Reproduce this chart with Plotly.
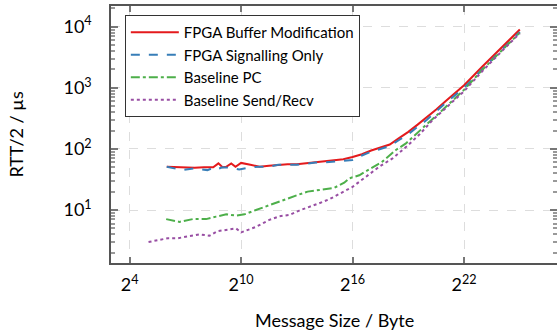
import math
import plotly.graph_objects as go

# ---- data (x as log2 of message size in bytes, y = RTT/2 in microseconds) ----
red_n = [6, 6.5, 7, 7.5, 8, 8.5, 8.78, 9, 9.2, 9.47, 9.7, 10, 10.5, 11, 11.5, 12, 12.5, 13, 13.5,
         14, 14.5, 15, 15.5, 16, 16.5, 17, 17.5, 18, 18.5, 19, 19.5, 20, 20.5, 21, 21.5, 22, 23, 24, 25]
red_y = [51, 50, 49, 49, 50, 50, 58, 50, 51, 58, 51, 59, 55, 51, 53, 55, 56, 56, 58,
         60, 62, 64, 68, 74, 82, 94, 105, 118, 150, 190, 250, 330, 440, 600, 800, 1100, 2250, 4500, 9000]

blue_n = [6, 6.85, 7.5, 8.19, 8.5, 8.66, 9, 9.5, 9.9, 10.5, 11, 11.5, 12, 12.5, 13, 13.5, 14, 14.5,
          15, 15.5, 16, 16.5, 17, 17.5, 18, 18.5, 19, 19.5, 20, 21, 22, 23, 24, 25]
blue_y = [51, 45, 48, 45, 49, 46, 50, 49, 46, 50, 51, 51, 55, 55, 55, 57, 60, 60,
          62, 64, 66, 78, 90, 100, 112, 140, 175, 230, 300, 560, 1000, 2050, 4100, 8200]

green_n = [5.97, 6.69, 7.4, 8.12, 8.66, 9.2, 9.73, 10.18, 10.8, 11.52, 12.15, 13.04, 13.58, 14.48,
           15.0, 15.55, 15.82, 16.36, 17.6, 18.33, 18.87, 19.94, 20.66, 22, 23, 24, 25]
green_y = [7.1, 6.4, 7.1, 7.1, 7.8, 8.5, 8.1, 8.5, 10, 12.1, 14, 17.6, 20, 22,
           23, 28, 33, 37, 62, 96, 123, 245, 385, 930, 2000, 4000, 8000]

purple_n = [5.02, 6.06, 6.58, 7.12, 7.76, 8.3, 8.73, 9.73, 10.0, 10.8, 10.99, 11.52, 12.06, 12.6,
            13.13, 13.67, 14.2, 14.75, 15.28, 16.0, 16.72, 17.43, 18.15, 18.87, 19.58, 20.3, 22, 23, 24, 25]
purple_y = [3.0, 3.45, 3.45, 3.65, 4.0, 3.8, 4.5, 5.0, 4.3, 5.3, 5.7, 6.9, 7.9, 8.3,
            9.8, 11.1, 12.9, 15, 18.5, 24, 35, 51, 70, 107, 170, 295, 880, 1900, 3900, 7800]

series_names = ["FPGA Buffer Modification", "FPGA Signalling Only", "Baseline PC", "Baseline Send/Recv"]
x_tick_exps = [4, 10, 16, 22]
y_tick_vals = [10, 100, 1000, 10000]
y_tick_text = ["10<sup>1</sup>", "10<sup>2</sup>", "10<sup>3</sup>", "10<sup>4</sup>"]


def to_bytes(ns):
    return [2 ** n for n in ns]


FONT = "Lato"
fig = go.Figure()
styles = [
    ("#e41a1c", "solid"),
    ("#377eb8", "dash"),
    ("#4daf4a", "dashdot"),
    ("#984ea3", "dot"),
]
data = [(red_n, red_y), (blue_n, blue_y), (green_n, green_y), (purple_n, purple_y)]
for (ns, ys), name, (col, dash) in zip(data, series_names, styles):
    fig.add_trace(go.Scatter(x=to_bytes(ns), y=ys, mode="lines", name=name,
                             line=dict(color=col, dash=dash, width=2)))

# invisible trace so the mirrored right-hand axis (with minor ticks) is drawn
fig.add_trace(go.Scatter(x=[None], y=[None], yaxis="y2", showlegend=False,
                         hoverinfo="skip", mode="lines"))

LOG2 = math.log10(2)
Y_RANGE = [0.133, 4.339]
fig.update_layout(
    xaxis=dict(
        type="log", range=[3 * LOG2, 27 * LOG2],
        tickvals=[2 ** e for e in x_tick_exps],
        ticktext=[f"2<sup>{e}</sup>" for e in x_tick_exps],
        ticks="inside", ticklen=6, tickcolor="#777", tickwidth=1.5,
        showline=True, linecolor="#555", linewidth=1.5, mirror="ticks",
        showgrid=True, gridcolor="#dddddd", griddash="dash", gridwidth=1,
        zeroline=False, tickfont=dict(family=FONT, size=18, color="black"),
        ticklabelstandoff=5,
    ),
    yaxis=dict(
        type="log", range=Y_RANGE,
        tickvals=y_tick_vals, ticktext=y_tick_text,
        ticks="inside", ticklen=7, tickcolor="#777", tickwidth=1.5,
        minor=dict(ticks="inside", ticklen=4, tickcolor="#999", dtick="D1", showgrid=False),
        showline=True, linecolor="#555", linewidth=1.5, mirror=True,
        showgrid=True, gridcolor="#dddddd", griddash="dash", gridwidth=1,
        zeroline=False, tickfont=dict(family=FONT, size=18, color="black"),
        ticklabelstandoff=14,
    ),
    yaxis2=dict(
        type="log", range=Y_RANGE, overlaying="y", side="right",
        tickvals=y_tick_vals, showticklabels=False,
        ticks="inside", ticklen=7, tickcolor="#777", tickwidth=1.5,
        minor=dict(ticks="inside", ticklen=4, tickcolor="#999", dtick="D1", showgrid=False),
        showline=False, showgrid=False, zeroline=False,
    ),
    width=557, height=331,
    margin=dict(l=111, r=0, t=6, b=68, autoexpand=False),
    paper_bgcolor="white", plot_bgcolor="white",
    font=dict(family=FONT, color="black"),
    showlegend=True,
    legend=dict(x=0.031, y=0.965, xanchor="left", yanchor="top",
                bgcolor="white", bordercolor="#333", borderwidth=1,
                font=dict(family=FONT, size=15, color="black"),
                itemwidth=48, tracegroupgap=0),
    annotations=[
        dict(text="Message Size / Byte", xref="paper", yref="paper", x=0.5, y=-0.22,
             xanchor="center", yanchor="middle", showarrow=False,
             font=dict(family=FONT, size=18, color="black")),
        dict(text="RTT/2 / µs", xref="paper", yref="paper", x=-0.215, y=0.5,
             xanchor="center", yanchor="middle", showarrow=False, textangle=-90,
             font=dict(family=FONT, size=18, color="black")),
    ],
)
fig.write_html("out.html")
